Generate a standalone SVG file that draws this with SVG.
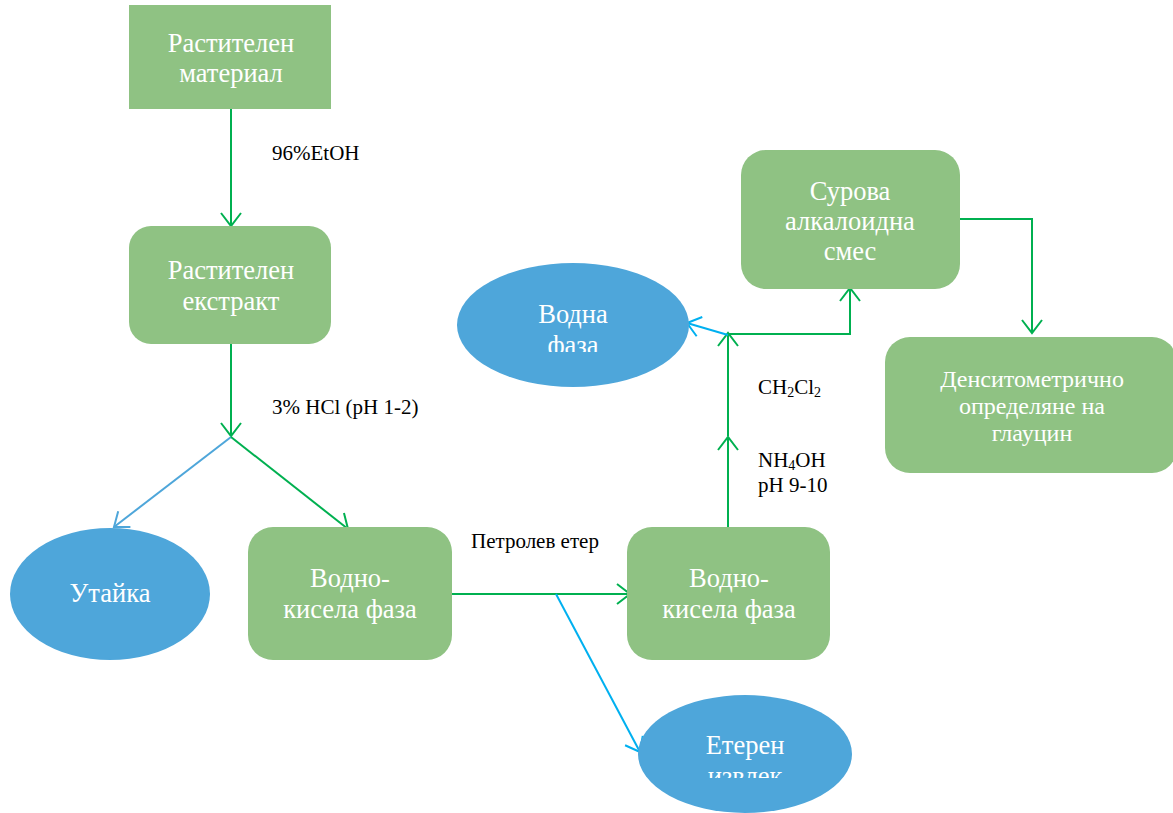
<svg xmlns="http://www.w3.org/2000/svg" width="1173" height="813" viewBox="0 0 1173 813" font-family="'Liberation Serif', 'DejaVu Serif', serif">
<style>
.box{fill:#8FC283;}
.ell{fill:#4EA6DA;}
text{font-family:'Liberation Serif','DejaVu Serif',serif;}
.nt{font-size:26.5px;fill:#FFFFFF;text-anchor:middle;}
.ds{font-size:24px;}
.lb{font-size:21px;fill:#000000;}
.g{stroke:#00B050;stroke-width:2;fill:none;}
.b{stroke:#4EA6DA;stroke-width:2;fill:none;}
.c{stroke:#00B0F0;stroke-width:2;fill:none;}
</style>
<defs>
<marker id="ag" markerUnits="userSpaceOnUse" markerWidth="30" markerHeight="30" refX="14" refY="10" orient="auto" viewBox="0 0 30 20">
<path d="M1,0 L14,10 L1,20" fill="none" stroke="#00B050" stroke-width="2"/>
</marker>
<marker id="ab" markerUnits="userSpaceOnUse" markerWidth="30" markerHeight="30" refX="14" refY="10" orient="auto" viewBox="0 0 30 20">
<path d="M1,0 L14,10 L1,20" fill="none" stroke="#4EA6DA" stroke-width="2"/>
</marker>
<marker id="ac" markerUnits="userSpaceOnUse" markerWidth="30" markerHeight="30" refX="14" refY="10" orient="auto" viewBox="0 0 30 20">
<path d="M1,0 L14,10 L1,20" fill="none" stroke="#00B0F0" stroke-width="2"/>
</marker>
<clipPath id="clipV"><rect x="440" y="250" width="260" height="102"/></clipPath>
<clipPath id="clipE"><rect x="630" y="690" width="230" height="88"/></clipPath>
</defs>

<g id="connectors">
<line class="g" x1="231" y1="108" x2="231" y2="226" marker-end="url(#ag)"/>
<line class="g" x1="231" y1="344" x2="231" y2="436" marker-end="url(#ag)"/>
<line class="b" x1="231" y1="437" x2="114" y2="527" marker-end="url(#ab)"/>
<line class="g" x1="231" y1="437" x2="348" y2="529" marker-end="url(#ag)"/>
<line class="g" x1="452" y1="594" x2="630" y2="594" marker-end="url(#ag)"/>
<line class="c" x1="556" y1="594" x2="640" y2="752" marker-end="url(#ac)"/>
<line class="g" x1="728" y1="527" x2="728" y2="437" marker-end="url(#ag)"/>
<line class="g" x1="728" y1="436" x2="728" y2="333" marker-end="url(#ag)"/>
<polyline class="g" points="728,334 850,334 850,288" marker-end="url(#ag)"/>
<line class="c" x1="728" y1="335" x2="687" y2="323" marker-end="url(#ac)"/>
<polyline class="g" points="960,219 1032,219 1032,333" marker-end="url(#ag)"/>
</g>

<g id="labels">
<text class="lb" x="272" y="160">96%EtOH</text>
<text class="lb" x="272" y="414">3% HCl (pH 1-2)</text>
<text class="lb" x="471" y="548">Петролев етер</text>
<text class="lb" x="758" y="394">CH<tspan font-size="14" dy="3">2</tspan><tspan dy="-3">Cl</tspan><tspan font-size="14" dy="3">2</tspan></text>
<text class="lb" x="758" y="467">NH<tspan font-size="14" dy="3">4</tspan><tspan dy="-3">OH</tspan></text>
<text class="lb" x="758" y="492">pH 9-10</text>
</g>

<g id="n-material">
<rect class="box" x="129" y="5" width="202" height="104"/>
<text class="nt" x="231" y="52">Растителен</text>
<text class="nt" x="231" y="82">материал</text>
</g>

<g id="n-extract">
<rect class="box" x="129" y="226" width="202" height="118" rx="22"/>
<text class="nt" x="231" y="279">Растителен</text>
<text class="nt" x="231" y="310">екстракт</text>
</g>

<g id="n-utaika">
<ellipse class="ell" cx="110" cy="594" rx="100" ry="66"/>
<text class="nt" x="110" y="602">Утайка</text>
</g>

<g id="n-vodno1">
<rect class="box" x="248" y="527" width="204" height="133" rx="25"/>
<text class="nt" x="350" y="587">Водно-</text>
<text class="nt" x="350" y="618">кисела фаза</text>
</g>

<g id="n-vodno2">
<rect class="box" x="627" y="527" width="203" height="133" rx="25"/>
<text class="nt" x="729" y="587">Водно-</text>
<text class="nt" x="729" y="618">кисела фаза</text>
</g>

<g id="n-eteren">
<ellipse class="ell" cx="745" cy="754" rx="107" ry="59"/>
<g clip-path="url(#clipE)">
<text class="nt" x="745" y="754">Етерен</text>
<text class="nt" x="745" y="785">извлек</text>
</g>
</g>

<g id="n-vodna">
<ellipse class="ell" cx="573" cy="325" rx="116" ry="62"/>
<g clip-path="url(#clipV)">
<text class="nt" x="573" y="323">Водна</text>
<text class="nt" x="573" y="354">фаза</text>
</g>
</g>

<g id="n-surova">
<rect class="box" x="741" y="150" width="219" height="139" rx="25"/>
<text class="nt" x="850" y="200">Сурова</text>
<text class="nt" x="850" y="230">алкалоидна</text>
<text class="nt" x="850" y="260">смес</text>
</g>

<g id="n-dens">
<rect class="box" x="885" y="337" width="292" height="136" rx="25"/>
<text class="nt ds" x="1032" y="387">Денситометрично</text>
<text class="nt ds" x="1032" y="414">определяне на</text>
<text class="nt ds" x="1032" y="441">глауцин</text>
</g>
</svg>
